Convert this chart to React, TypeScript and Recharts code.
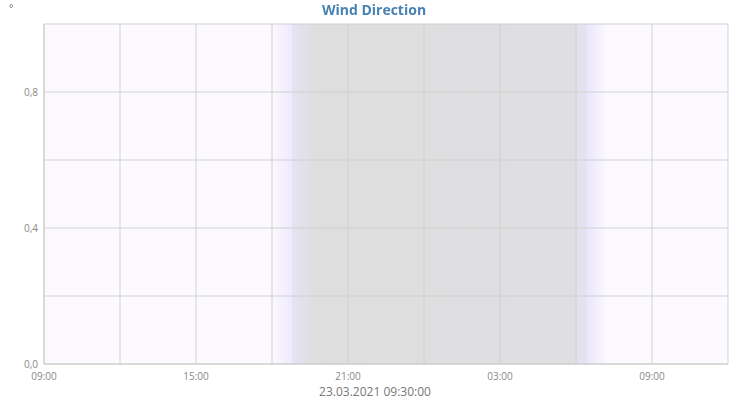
import React from "react";
import {
  LineChart,
  Line,
  XAxis,
  YAxis,
  CartesianGrid,
  ReferenceArea,
} from "recharts";

// hours since 23.03.2021 09:00
const hours = [0, 3, 6, 9, 12, 15, 18, 21, 24, 27];
const directionValues: (number | null)[] = [null, null, null, null, null, null, null, null, null, null];
const hourLabels = ["09:00", "", "15:00", "", "21:00", "", "03:00", "", "09:00", ""];
const yTicks = [0, 0.2, 0.4, 0.6, 0.8, 1.0];
const yTickLabels = ["0,0", "", "0,4", "", "0,8", ""];

// twilight / night periods (hours since start)
const duskStart = 8.9;
const nightStart = 9.79;
const nightEnd = 21.43;
const dawnEnd = 22.26;

const title = "Wind Direction";
const unit = "°";
const timestamp = "23.03.2021 09:30:00";

const data = hours.map((h, i) => ({ t: h, direction: directionValues[i] }));

const FONT = "'Open Sans', 'Noto Sans', sans-serif";

export default function App() {
  return (
    <div style={{ position: "relative", width: 742, height: 392, fontFamily: FONT }}>
      <div style={{ position: "absolute", left: 0, top: 0, zIndex: 0 }}>
        <LineChart
          width={742}
          height={392}
          data={data}
          margin={{ top: 16, right: 22, bottom: 0, left: 0 }}
        >
          <defs>
            <linearGradient id="dusk" x1="0" y1="0" x2="1" y2="0">
              <stop offset="0%" stopColor="#fcfaff" />
              <stop offset="100%" stopColor="#efeafb" />
            </linearGradient>
            <linearGradient id="night" x1="0" y1="0" x2="1" y2="0">
              <stop offset="0%" stopColor="#e6e3f4" />
              <stop offset="8%" stopColor="#dedede" />
              <stop offset="96%" stopColor="#dfdfe3" />
              <stop offset="96.5%" stopColor="#e2e1ee" />
              <stop offset="100%" stopColor="#e4e2f0" />
            </linearGradient>
            <linearGradient id="dawn" x1="0" y1="0" x2="1" y2="0">
              <stop offset="0%" stopColor="#ebe6fa" />
              <stop offset="100%" stopColor="#fcfaff" />
            </linearGradient>
          </defs>
          <CartesianGrid stroke="none" fill="#fcfaff" fillOpacity={1} />
          <ReferenceArea x1={duskStart} x2={nightStart} y1={0} y2={1} fill="url(#dusk)" fillOpacity={1} stroke="none" ifOverflow="extendDomain" />
          <ReferenceArea x1={nightStart} x2={nightEnd} y1={0} y2={1} fill="url(#night)" fillOpacity={1} stroke="none" ifOverflow="extendDomain" />
          <ReferenceArea x1={nightEnd} x2={dawnEnd} y1={0} y2={1} fill="url(#dawn)" fillOpacity={1} stroke="none" ifOverflow="extendDomain" />
          <CartesianGrid stroke="#d0d0d0" fill="none" zIndex={300} />
          <XAxis
            dataKey="t"
            type="number"
            domain={[0, 27]}
            allowDataOverflow
            ticks={hours}
            tickFormatter={(v: number) => hourLabels[hours.indexOf(v)] ?? ""}
            interval={0}
            tickLine={false}
            tickSize={0}
            tickMargin={9}
            stroke="#cccccc"
            height={36}
            tick={{ fontSize: 10, fill: "#888888", fontFamily: FONT }}
          />
          <YAxis
            type="number"
            domain={[0, 1]}
            allowDataOverflow
            ticks={yTicks}
            tickFormatter={(v: number) => yTickLabels[yTicks.indexOf(v)] ?? ""}
            interval={0}
            tickLine={false}
            tickSize={0}
            tickMargin={6}
            stroke="#cccccc"
            width={36}
            tick={{ fontSize: 10, fill: "#888888", fontFamily: FONT }}
          />
          <Line
            type="linear"
            dataKey="direction"
            stroke="#4682b4"
            dot={false}
            isAnimationActive={false}
            connectNulls={false}
          />
        </LineChart>
      </div>
      <div
        style={{
          position: "fixed",
          zIndex: 5,
          left: 0,
          top: 0,
          width: 748,
          textAlign: "center",
          fontSize: 14,
          fontWeight: 700,
          color: "#4682b4",
          lineHeight: "20px",
          fontFamily: FONT,
        }}
      >
        {title}
      </div>
      <div
        style={{
          position: "fixed",
          zIndex: 5,
          left: 9,
          top: 1,
          fontSize: 10,
          color: "#666666",
          lineHeight: "14px",
          fontFamily: FONT,
        }}
      >
        {unit}
      </div>
      <div
        style={{
          position: "absolute",
          zIndex: 5,
          left: 0,
          top: 376,
          width: 734,
          textAlign: "center",
          fontSize: 12,
          color: "#777777",
          lineHeight: "16px",
        }}
      >
        {timestamp}
      </div>
    </div>
  );
}
